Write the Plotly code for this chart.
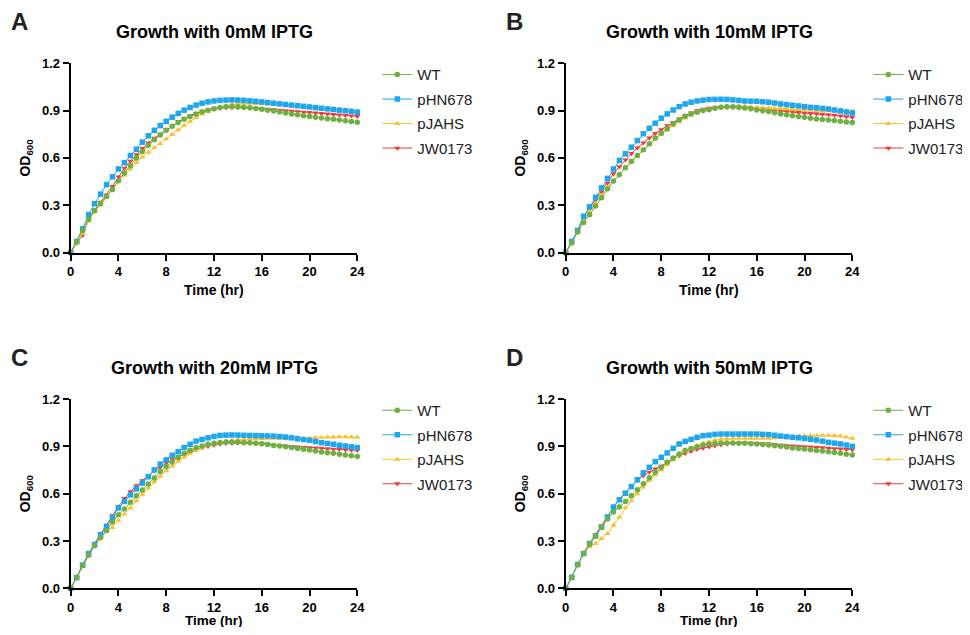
import plotly.graph_objects as go

time_hr = [i * 0.5 for i in range(49)]

strains = ["WT", "pHN678", "pJAHS", "JW0173"]
panel_titles = ["Growth with 0mM IPTG", "Growth with 10mM IPTG",
                "Growth with 20mM IPTG", "Growth with 50mM IPTG"]
panel_letters = ["A", "B", "C", "D"]
x_title = "Time (hr)"
y_title = "OD<sub>600</sub>"
x_ticks = [0, 4, 8, 12, 16, 20, 24]
y_ticks = [0.0, 0.3, 0.6, 0.9, 1.2]

# Panel A: 0 mM IPTG
wt_0 = [0, .07, .14, .21, .265, .31, .355, .40, .455, .505, .55, .60, .64, .68, .715, .745, .775, .80, .825, .845,
        .862, .878, .892, .903, .912, .919, .924, .926, .925, .922, .918, .914, .909, .903, .897, .891, .885, .879,
        .873, .868, .863, .858, .853, .849, .845, .841, .836, .831, .826]
phn_0 = [0, .07, .15, .24, .31, .37, .43, .48, .53, .57, .615, .655, .70, .74, .775, .805, .832, .858, .882, .903,
         .92, .935, .947, .955, .961, .965, .967, .968, .967, .965, .962, .959, .955, .951, .947, .943, .939, .935,
         .931, .927, .923, .919, .915, .911, .907, .903, .899, .895, .89]
pjahs_0 = [0, .06, .12, .20, .26, .30, .35, .40, .45, .49, .53, .57, .605, .635, .665, .69, .72, .75, .778, .806,
           .832, .856, .877, .895, .91, .922, .932, .939, .944, .946, .946, .945, .943, .941, .939, .936, .933, .93,
           .927, .924, .921, .918, .915, .912, .909, .906, .903, .90, .897]
jw_0 = [0, .06, .11, .21, .27, .32, .365, .42, .48, .535, .58, .62, .66, .695, .725, .75, .78, .805, .83, .85,
        .868, .883, .895, .904, .911, .915, .918, .919, .919, .918, .916, .914, .912, .909, .906, .903, .90, .897,
        .894, .891, .888, .885, .882, .879, .876, .873, .87, .867, .864]

# Panel B: 10 mM IPTG
wt_10 = [0, .06, .13, .19, .24, .295, .348, .405, .453, .493, .537, .578, .616, .651, .689, .727, .757, .784, .816,
         .841, .864, .879, .89, .90, .906, .915, .921, .925, .925, .921, .917, .911, .904, .899, .894, .887, .879,
         .874, .868, .863, .858, .852, .847, .844, .841, .837, .833, .828, .824]
phn_10 = [0, .07, .14, .23, .29, .35, .41, .47, .53, .584, .626, .668, .71, .753, .788, .82, .852, .879, .904, .925,
          .942, .953, .961, .966, .97, .971, .972, .971, .968, .965, .961, .96, .959, .956, .953, .948, .942, .938,
          .934, .93, .925, .921, .918, .914, .91, .904, .898, .891, .885]
pjahs_10 = [0, .065, .135, .205, .26, .31, .36, .41, .455, .495, .535, .575, .612, .648, .684, .72, .75, .778, .805,
            .83, .853, .872, .887, .90, .91, .918, .924, .928, .93, .929, .927, .924, .92, .918, .916, .914, .912,
            .91, .908, .906, .904, .902, .90, .899, .898, .897, .897, .897, .897]
jw_10 = [0, .065, .14, .23, .28, .335, .384, .44, .50, .545, .588, .628, .664, .696, .727, .755, .78, .804, .826,
         .848, .868, .885, .90, .909, .915, .918, .921, .922, .921, .918, .915, .911, .908, .906, .904, .902, .90,
         .896, .893, .889, .885, .882, .88, .877, .875, .871, .867, .862, .858]

# Panel C: 20 mM IPTG
wt_20 = [0, .07, .145, .21, .27, .32, .367, .42, .466, .503, .545, .587, .623, .661, .699, .741, .772, .801, .829,
         .854, .875, .892, .902, .913, .919, .924, .927, .928, .927, .925, .923, .92, .917, .911, .906, .902, .898,
         .893, .887, .882, .877, .87, .864, .86, .856, .85, .845, .84, .835]
phn_20 = [0, .067, .147, .22, .277, .34, .392, .451, .51, .55, .592, .63, .667, .707, .751, .787, .814, .843, .866,
          .892, .913, .933, .944, .954, .963, .969, .971, .972, .971, .97, .969, .968, .967, .966, .965, .962, .959,
          .954, .948, .943, .938, .93, .923, .918, .913, .907, .902, .897, .892]
pjahs_20 = [0, .065, .14, .21, .27, .32, .36, .385, .43, .47, .51, .555, .595, .635, .675, .71, .745, .775, .805,
            .83, .855, .875, .89, .905, .915, .925, .932, .937, .941, .944, .946, .948, .949, .95, .95, .95, .95,
            .949, .949, .95, .952, .954, .956, .958, .959, .96, .96, .959, .957]
jw_20 = [0, .07, .15, .22, .285, .345, .40, .46, .52, .57, .613, .651, .682, .713, .745, .768, .793, .815, .835,
         .85, .864, .879, .892, .90, .908, .914, .919, .92, .921, .92, .919, .918, .917, .913, .908, .905, .902,
         .899, .896, .894, .892, .89, .888, .885, .883, .881, .879, .877, .875]

# Panel D: 50 mM IPTG
wt_50 = [0, .07, .15, .22, .28, .33, .385, .44, .484, .515, .551, .589, .624, .662, .70, .736, .767, .799, .826,
         .852, .873, .887, .898, .908, .915, .918, .921, .921, .921, .92, .919, .917, .915, .912, .908, .904, .90,
         .895, .889, .886, .883, .878, .873, .87, .866, .861, .856, .85, .845]
phn_50 = [0, .069, .151, .22, .284, .332, .387, .452, .515, .561, .603, .645, .688, .732, .767, .803, .83, .858,
          .887, .915, .931, .944, .957, .967, .971, .976, .978, .978, .978, .978, .978, .978, .978, .976, .974, .97,
          .965, .961, .957, .954, .95, .945, .94, .933, .925, .92, .915, .908, .90]
pjahs_50 = [0, .07, .15, .22, .263, .284, .315, .347, .40, .452, .511, .557, .599, .641, .683, .719, .751, .784,
            .814, .841, .866, .883, .904, .919, .929, .94, .946, .948, .95, .95, .95, .95, .95, .95, .95, .953, .957,
            .96, .963, .965, .967, .968, .969, .969, .969, .967, .965, .958, .95]
jw_50 = [0, .07, .15, .225, .285, .34, .395, .455, .515, .565, .605, .645, .685, .715, .737, .757, .775, .80, .82,
         .84, .856, .869, .881, .89, .898, .904, .91, .915, .919, .92, .921, .92, .919, .917, .915, .912, .908,
         .905, .903, .90, .898, .896, .894, .891, .889, .886, .884, .881, .879]

panels = [
    {"WT": wt_0, "pHN678": phn_0, "pJAHS": pjahs_0, "JW0173": jw_0},
    {"WT": wt_10, "pHN678": phn_10, "pJAHS": pjahs_10, "JW0173": jw_10},
    {"WT": wt_20, "pHN678": phn_20, "pJAHS": pjahs_20, "JW0173": jw_20},
    {"WT": wt_50, "pHN678": phn_50, "pJAHS": pjahs_50, "JW0173": jw_50},
]

colors = {"WT": "#6FB043", "pHN678": "#1EA7EE", "pJAHS": "#F9C12C", "JW0173": "#EE3B3B"}
symbols = {"WT": "circle", "pHN678": "square", "pJAHS": "triangle-up", "JW0173": "triangle-down"}
msize = {"WT": 5.5, "pHN678": 5.5, "pJAHS": 5.5, "JW0173": 5.5}
draw_order = ["JW0173", "pJAHS", "pHN678", "WT"]

OFF = 8  # the page body margin shifts the figure by this much
W, H = 970 - 2 * OFF, 635 - 2 * OFF
FONT = "Liberation Sans, Arial, sans-serif"

# on-screen pixel layout of each panel: (x_left, x_right, y_top, y_bottom)
boxes = [(70.7, 357.3, 63.3, 252.5), (565.7, 852.3, 63.3, 252.5),
         (70.7, 357.3, 399.0, 588.3), (565.7, 852.3, 399.0, 588.3)]
legend_dx = [20, 16, 20, 16]
xtitle_dy = [37.5, 37.5, 32.0, 32.0]
xtitle_size = [14, 14, 13.5, 13.5]


def px(x):
    return (x - OFF) / W


def py(y):
    return 1 - (y - OFF) / H


fig = go.Figure()
annotations = []
for i, (data, box) in enumerate(zip(panels, boxes)):
    n = "" if i == 0 else str(i + 1)
    xl, xr, yt, yb = box
    legend_name = "legend" + n
    for s in draw_order:
        fig.add_trace(go.Scatter(
            x=time_hr, y=data[s], name=s, mode="lines+markers",
            line=dict(color=colors[s], width=1),
            marker=dict(symbol=symbols[s], size=msize[s], color=colors[s], line=dict(width=0)),
            xaxis="x" + n, yaxis="y" + n, legend=legend_name,
            legendrank=strains.index(s) + 1, legendgroup=f"{s}{i}",
            cliponaxis=False, showlegend=True,
        ))
    axis_common = dict(showline=True, linewidth=2, linecolor="black", ticks="outside",
                       ticklen=6, tickwidth=2, tickcolor="black", showgrid=False, zeroline=False,
                       automargin=False,
                       tickfont=dict(family=FONT, size=13, color="black", weight="bold"))
    fig.update_layout(**{
        "xaxis" + n: dict(domain=[px(xl), px(xr)], range=[0, 24], tickvals=x_ticks,
                          anchor="y" + n, **axis_common),
        "yaxis" + n: dict(domain=[py(yb), py(yt)], range=[0, 1.2], tickvals=y_ticks,
                          tickformat=".1f", anchor="x" + n,
                          title=dict(text=y_title, standoff=8,
                                     font=dict(family=FONT, size=14, color="black", weight="bold")),
                          **axis_common),
        legend_name: dict(x=px(xr + legend_dx[i]), y=py(yt - 5), xanchor="left", yanchor="top",
                          traceorder="grouped", tracegroupgap=2, bgcolor="rgba(0,0,0,0)",
                          font=dict(family=FONT, size=15, color="#222222")),
    })
    annotations.append(dict(text=x_title, x=px((xl + xr) / 2), y=py(yb + xtitle_dy[i]),
                            xref="paper", yref="paper", xanchor="center", yanchor="middle",
                            showarrow=False, borderpad=0,
                            font=dict(family=FONT, size=xtitle_size[i], color="black", weight="bold")))
    annotations.append(dict(text=panel_titles[i], x=px((xl + xr) / 2), y=py(yt - 31),
                            xref="paper", yref="paper", xanchor="center", yanchor="middle",
                            showarrow=False,
                            font=dict(family=FONT, size=18, color="black", weight="bold")))
    annotations.append(dict(text=panel_letters[i], x=px(xl - 62), y=py(yt - 41.5),
                            xref="paper", yref="paper", xanchor="left", yanchor="middle",
                            showarrow=False,
                            font=dict(family=FONT, size=24, color="#222222", weight="bold")))

fig.update_layout(width=W, height=H, margin=dict(l=0, r=0, t=0, b=0, autoexpand=False),
                  plot_bgcolor="white", paper_bgcolor="white",
                  annotations=annotations, showlegend=True)

fig.write_html("out.html")
